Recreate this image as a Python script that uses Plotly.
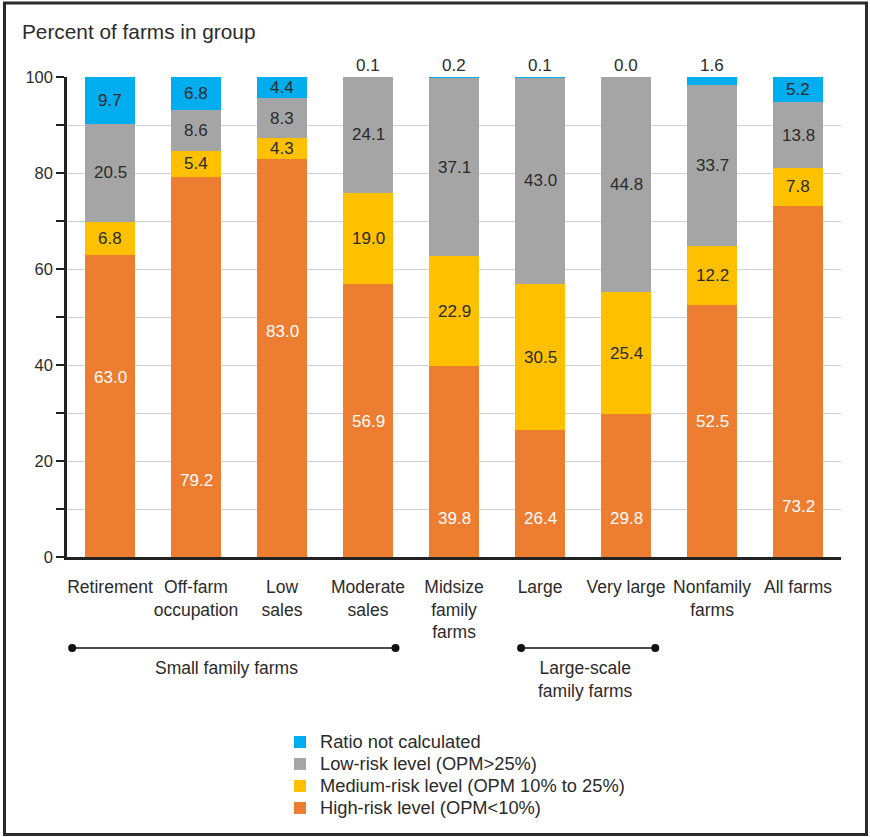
import plotly.graph_objects as go

# ---------------- data ----------------
categories = ["Retirement", "Off-farm<br>occupation", "Low<br>sales", "Moderate<br>sales",
              "Midsize<br>family<br>farms", "Large", "Very large", "Nonfamily<br>farms", "All farms"]
high_risk = [63.0, 79.2, 83.0, 56.9, 39.8, 26.4, 29.8, 52.5, 73.2]
medium_risk = [6.8, 5.4, 4.3, 19.0, 22.9, 30.5, 25.4, 12.2, 7.8]
low_risk = [20.5, 8.6, 8.3, 24.1, 37.1, 43.0, 44.8, 33.7, 13.8]
not_calculated = [9.7, 6.8, 4.4, 0.1, 0.2, 0.1, 0.0, 1.6, 5.2]
y_ticks = [0, 10, 20, 30, 40, 50, 60, 70, 80, 90, 100]
y_tick_labels = ["0", "", "20", "", "40", "", "60", "", "80", "", "100"]

series_names = ["High-risk level (OPM<10%)", "Medium-risk level (OPM 10% to 25%)",
                "Low-risk level (OPM>25%)", "Ratio not calculated"]
series_values = [high_risk, medium_risk, low_risk, not_calculated]

# ---------------- styles / positions ----------------
colors = ["#ED7D31", "#FFC000", "#A5A5A5", "#00AEEF"]
label_colors = ["white", "#2b2b2b", "#2b2b2b", "#2b2b2b"]
orange_label_pos = [37.5, 16.0, 46.9, 28.3, 8.1, 8.1, 8.1, 28.3, 10.6]
FONT = "Liberation Sans, Arial, sans-serif"
TXT = "#2b2b2b"

W, H = 870, 837
ML, MR, MT, MB = 67, 29, 77, 280
PW, PH = W - ML - MR, H - MT - MB


def px_x(p):
    return (p - ML) / PW


def px_y(p):
    return (H - MB - p) / PH


fig = go.Figure()
for name, vals, col in zip(series_names, series_values, colors):
    fig.add_trace(go.Bar(x=list(range(len(categories))), y=vals,
                         name=f"<span style='font-size:18.3px'>{name}</span>",
                         marker=dict(color=col, line=dict(width=0)), width=0.582,
                         hovertemplate=name + ": %{y:.1f}<extra></extra>"))

annotations = []
n = len(categories)
for i in range(n):
    base = 0.0
    for s, vals in enumerate(series_values):
        v = vals[i]
        txt = f"{v:.1f}"
        if s == 0:
            annotations.append(dict(x=i, y=orange_label_pos[i], yanchor="middle", text=txt,
                                    showarrow=False,
                                    font=dict(size=17, color=label_colors[s], family=FONT)))
        elif s == 3 and v < 2.0:
            annotations.append(dict(x=i, y=100, yanchor="bottom", text=txt, showarrow=False,
                                    yshift=0,
                                    font=dict(size=17, color=TXT, family=FONT)))
        else:
            annotations.append(dict(x=i, y=base + v / 2, yanchor="middle", text=txt,
                                    showarrow=False,
                                    font=dict(size=17, color=label_colors[s], family=FONT)))
        base += v

# group labels
annotations.append(dict(x=1.36, y=px_y(668), yref="paper", yanchor="middle",
                        text="Small family farms",
                        showarrow=False, font=dict(size=17.5, color=TXT, family=FONT)))
annotations.append(dict(x=5.53, y=px_y(679), yref="paper", yanchor="middle",
                        text="Large-scale<br>family farms",
                        showarrow=False, font=dict(size=17.5, color=TXT, family=FONT)))

shapes = []
for x0, x1 in [(-0.44, 3.32), (4.78, 6.34)]:
    yb = px_y(648)
    shapes.append(dict(type="line", xref="x", yref="paper", x0=x0, x1=x1, y0=yb, y1=yb,
                       line=dict(color="#111111", width=1.5)))
    for xe in (x0, x1):
        shapes.append(dict(type="circle", xref="x", yref="paper", xsizemode="pixel",
                           ysizemode="pixel", xanchor=xe, yanchor=yb, x0=-4, x1=4, y0=-4, y1=4,
                           fillcolor="#111111", line=dict(width=0)))

# outer border
shapes.append(dict(type="rect", xref="paper", yref="paper",
                   x0=px_x(4.5), x1=px_x(866.5), y0=px_y(834.5), y1=px_y(3),
                   line=dict(color="#2a2a2a", width=3), layer="above"))

fig.update_layout(
    template="none",
    width=W, height=H,
    margin=dict(l=ML, r=MR, t=MT, b=MB, autoexpand=False),
    barmode="stack",
    paper_bgcolor="white", plot_bgcolor="white",
    font=dict(family=FONT, size=17.5, color=TXT),
    title=dict(text="Percent of farms in group", x=22 / W, xanchor="left",
               y=1 - 32 / H, yanchor="middle", font=dict(size=20.8, color=TXT, family=FONT)),
    xaxis=dict(tickmode="array", tickvals=list(range(n)), ticktext=categories,
               range=[-0.5, n - 0.5], showgrid=False, zeroline=False, automargin=False,
               showline=True, linecolor="#222222", linewidth=2.5, ticks="", tickangle=0,
               ticklabelstandoff=12, tickfont=dict(size=17.5, color=TXT)),
    yaxis=dict(range=[0, 100], tickmode="array", tickvals=y_ticks, ticktext=y_tick_labels,
               showgrid=True, gridcolor="#D0D0D0", gridwidth=1, zeroline=False,
               automargin=False,
               showline=True, linecolor="#222222", linewidth=2.5,
               ticks="outside", ticklen=8, tickwidth=2, tickcolor="#222222",
               tickfont=dict(size=16.5, color=TXT)),
    legend=dict(x=px_x(280), y=px_y(726), xanchor="left", yanchor="top",
                traceorder="reversed", font=dict(size=14.6, color=TXT, family=FONT),
                itemwidth=30, tracegroupgap=0, bgcolor="rgba(0,0,0,0)", borderwidth=0),
    annotations=annotations,
    shapes=shapes,
    showlegend=True,
)

fig.write_html("out.html", config={"displayModeBar": False},
               post_script="document.body.style.margin='0';document.body.style.overflow='hidden';")
